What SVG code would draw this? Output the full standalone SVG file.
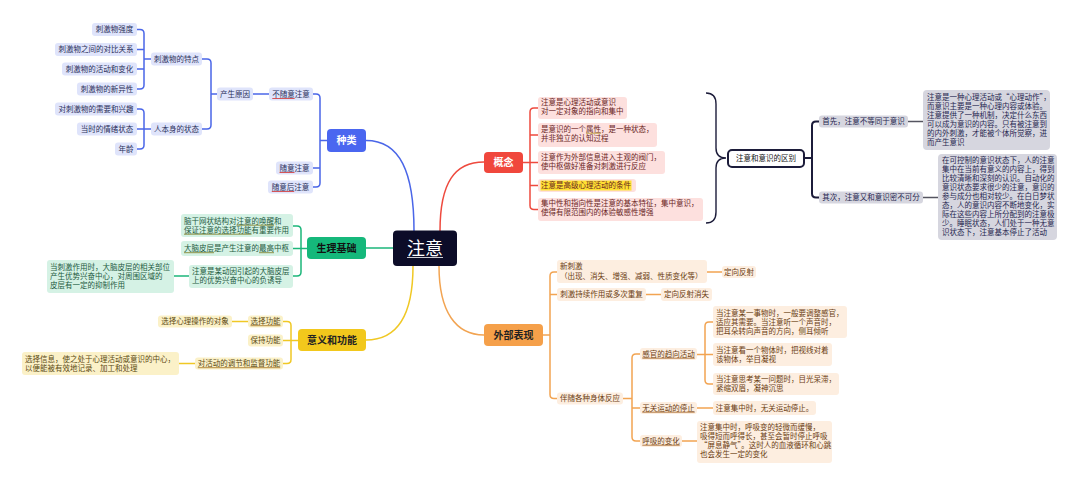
<svg xmlns="http://www.w3.org/2000/svg" width="1080" height="503" viewBox="0 0 1080 503">
<style>
text{font-family:"Noto Sans CJK SC","Noto Sans",sans-serif;font-size:7.5px;}
.c{text-anchor:middle;}
.b rect{fill:#dfe4fb;} .b text{fill:#2a2f5a;}
.g rect{fill:#d5f2e5;} .g text{fill:#1d5a3f;}
.y rect{fill:#fbf1c8;} .y text{fill:#5b4a12;}
.r rect{fill:#fde0de;} .r text{fill:#6a1f1f;}
.o rect{fill:#fdeee0;} .o text{fill:#6b3d12;}
.k rect{fill:#d6d6df;} .k text{fill:#262650;}
.main text{font-size:10px;font-weight:bold;}
.lb{fill:none;stroke:#4a66e8;stroke-width:1.5;}
.lg{fill:none;stroke:#1bb67a;stroke-width:1.5;}
.ly{fill:none;stroke:#f0c824;stroke-width:1.5;}
.lr{fill:none;stroke:#ee4a3e;stroke-width:1.5;}
.lo{fill:none;stroke:#f2a452;stroke-width:1.5;}
.lk{fill:none;stroke:#1c1c3a;stroke-width:2;}
.lk2{fill:none;stroke:#555560;stroke-width:1.5;}
.ul{stroke-width:0.8;}
</style>
<rect width="1080" height="503" fill="#ffffff"/>

<g id="connectors">
  <path class="lb" d="M414,231 C414,172 400,140.5 366,140.5"/>
  <path class="lr" d="M440,231 C440,182 455,162 484,162"/>
  <path class="ly" d="M413,266 C413,318 395,340 366,340"/>
  <path class="lo" d="M439,266 C439,312 456,335 484,335"/>
  <path class="lg" d="M366,248 H393"/>
  <path class="lb" d="M313,94 H316 Q320,94 320,98 V183 Q320,187 316,187 H313 M313,168 H320 M320,140.5 H327"/>
  <path class="lb" d="M253,94 H269"/>
  <path class="lb" d="M202,59 H207 Q211,59 211,63 V125 Q211,129 207,129 H202 M211,94 H217"/>
  <path class="lb" d="M137,29.5 H140 Q144,29.5 144,33.5 V85 Q144,89 140,89 H137 M137,49.5 H144 M137,69 H144"/>
  <path class="lb" d="M144,59 H151"/>
  <path class="lb" d="M137,109 H140 Q144,109 144,113 V145 Q144,149 140,149 H137 M137,129 H151"/>
  <path class="lg" d="M293,226 H297 Q301,226 301,230 V272 Q301,276 297,276 H293 M293,248.5 H307"/>
  <path class="lg" d="M174,276 H189"/>
  <path class="ly" d="M283,321.5 H287 Q291,321.5 291,325.5 V359.5 Q291,363.5 287,363.5 H283 M283,340.5 H298"/>
  <path class="ly" d="M232,321.5 H248 M179,363.5 H195"/>
  <path class="lr" d="M538,108 H534 Q530,108 530,112 V205.5 Q530,209.5 534,209.5 H538 M538,135 H530 M538,162.5 H523 M538,185.5 H530"/>
  <path fill="none" stroke="#1c1c3a" stroke-width="1.4" d="M706,93 Q716,93 716,104 V148 Q716,158 726,158 Q716,158 716,168 V212 Q716,223 706,223"/>
  <path class="lk" d="M804,158 H812 M819,121.5 H816 Q812,121.5 812,125.5 V193.5 Q812,197.5 816,197.5 H819"/>
  <path class="lk2" d="M908,121.5 H923 M923,197.5 H938"/>
  <path class="lo" d="M557,272 H554 Q550,272 550,276 V394.5 Q550,398.5 554,398.5 H557 M557,294.5 H550 M550,335 H543"/>
  <path class="lo" d="M707,272 H722 M646,294.5 H661"/>
  <path class="lo" d="M640,354 H636 Q632,354 632,358 V437 Q632,441 636,441 H640 M640,408 H632 M632,398.5 H623"/>
  <path class="lo" d="M713,322 H709 Q705,322 705,326 V380 Q705,384 709,384 H713 M713,354.5 H697"/>
  <path class="lo" d="M697,408 H713 M682,441 H697"/>
</g>

<g id="n-center">
  <rect x="393" y="230.5" width="64" height="35.5" rx="4" fill="#0c0c28"/>
  <text x="425" y="254.5" class="c" style="font-size:18px;fill:#ffffff">注意</text>
  <line x1="407" y1="257.5" x2="443" y2="257.5" stroke="#ffffff" stroke-width="0.8"/>
</g>

<g id="n-zhonglei" class="main">
  <rect x="327" y="129" width="39" height="23" rx="4" fill="#4a66f0"/>
  <text x="346.5" y="144" class="c" style="fill:#ffffff">种类</text>
</g>
<g id="n-b1" class="b"><rect x="92" y="23" width="45" height="13" rx="3"/><text x="114.5" y="32.2" class="c">刺激物强度</text></g>
<g id="n-b2" class="b"><rect x="55" y="43" width="82" height="13" rx="3"/><text x="96" y="52.2" class="c">刺激物之间的对比关系</text></g>
<g id="n-b3" class="b"><rect x="62" y="62.5" width="75" height="13" rx="3"/><text x="99.5" y="71.7" class="c">刺激物的活动和变化</text></g>
<g id="n-b4" class="b"><rect x="77" y="82.5" width="60" height="13" rx="3"/><text x="107" y="91.7" class="c">刺激物的新异性</text></g>
<g id="n-b5" class="b"><rect x="55" y="102.5" width="82" height="13" rx="3"/><text x="96" y="111.7" class="c">对刺激物的需要和兴趣</text></g>
<g id="n-b6" class="b"><rect x="77" y="122.5" width="60" height="13" rx="3"/><text x="107" y="131.7" class="c">当时的情绪状态</text></g>
<g id="n-b7" class="b"><rect x="115" y="142.5" width="22" height="13" rx="3"/><text x="126" y="151.7" class="c">年龄</text></g>
<g id="n-b8" class="b"><rect x="151" y="52.5" width="51" height="13" rx="3"/><text x="176.5" y="61.7" class="c">刺激物的特点</text></g>
<g id="n-b9" class="b"><rect x="151" y="122.5" width="51" height="13" rx="3"/><text x="176.5" y="131.7" class="c">人本身的状态</text></g>
<g id="n-b10" class="b"><rect x="217" y="87.5" width="36" height="13" rx="3"/><text x="235" y="96.7" class="c">产生原因</text></g>
<g id="n-b11" class="b"><rect x="269" y="87.5" width="44" height="13" rx="3"/><text x="291" y="96.7" class="c">不随意注意</text><line class="ul" x1="272.3" y1="98.5" x2="294.7" y2="98.5" stroke="#d03030"/></g>
<g id="n-b12" class="b"><rect x="276" y="161.5" width="37" height="13" rx="3"/><text x="294.5" y="170.7" class="c">随意注意</text><line class="ul" x1="279.5" y1="172.5" x2="294.5" y2="172.5" stroke="#d03030"/></g>
<g id="n-b13" class="b"><rect x="268" y="180.5" width="45" height="13" rx="3"/><text x="290.5" y="189.7" class="c">随意后注意</text><line class="ul" x1="271.8" y1="191.5" x2="294.2" y2="191.5" stroke="#d03030"/></g>

<g id="n-shengli" class="main">
  <rect x="307" y="237" width="59" height="22" rx="4" fill="#15b87b"/>
  <text x="336.5" y="251.5" class="c" style="fill:#111111">生理基础</text>
</g>
<g id="n-g1" class="g">
  <rect x="181" y="214" width="112" height="23" rx="3"/>
  <text x="184" y="223.7">脑干网状结构对注意的唤醒和</text>
  <text x="184" y="232.7">保证注意的选择功能有重要作用</text>
  <line class="ul" x1="236.5" y1="225.2" x2="274" y2="225.2" stroke="#7a7a20"/>
  <line class="ul" x1="184" y1="234.2" x2="251.5" y2="234.2" stroke="#7a7a20"/>
</g>
<g id="n-g2" class="g">
  <rect x="181" y="241" width="112" height="15" rx="3"/>
  <text x="184" y="251.2">大脑皮层是产生注意的最高中枢</text>
  <line class="ul" x1="184" y1="252.7" x2="214" y2="252.7" stroke="#7a7a20"/>
  <line class="ul" x1="259" y1="252.7" x2="274" y2="252.7" stroke="#7a7a20"/>
</g>
<g id="n-g3" class="g">
  <rect x="189" y="265" width="104" height="23" rx="3"/>
  <text x="192" y="273.7">注意是某动因引起的大脑皮层</text>
  <text x="192" y="282.7">上的优势兴奋中心的负诱导</text>
</g>
<g id="n-g4" class="g">
  <rect x="47" y="260" width="127" height="33" rx="3"/>
  <text x="50" y="269.7">当刺激作用时，大脑皮层的相关部位</text>
  <text x="50" y="278.7">产生优势兴奋中心，对周围区域的</text>
  <text x="50" y="287.7">皮层有一定的抑制作用</text>
</g>

<g id="n-yiyi" class="main">
  <rect x="298" y="329" width="68" height="22" rx="4" fill="#f2c81c"/>
  <text x="332" y="343.5" class="c" style="fill:#222222">意义和功能</text>
</g>
<g id="n-y1" class="y"><rect x="248" y="315.5" width="35" height="12" rx="3"/><text x="265.5" y="324.2" class="c">选择功能</text><line class="ul" x1="250.5" y1="325.7" x2="280.5" y2="325.7" stroke="#a07020"/></g>
<g id="n-y2" class="y"><rect x="248" y="334.5" width="35" height="12" rx="3"/><text x="265.5" y="343.2" class="c">保持功能</text></g>
<g id="n-y3" class="y"><rect x="195" y="357.5" width="88" height="12" rx="3"/><text x="239" y="366.2" class="c">对活动的调节和监督功能</text><line class="ul" x1="197.8" y1="367.7" x2="280.2" y2="367.7" stroke="#a07020"/></g>
<g id="n-y4" class="y"><rect x="158" y="315.5" width="74" height="12" rx="3"/><text x="195" y="324.2" class="c">选择心理操作的对象</text></g>
<g id="n-y5" class="y">
  <rect x="22" y="352" width="157" height="23" rx="3"/>
  <text x="25" y="361.7">选择信息，使之处于心理活动或意识的中心，</text>
  <text x="25" y="370.7">以便能被有效地记录、加工和处理</text>
</g>

<g id="n-gainian" class="main">
  <rect x="484" y="152" width="39" height="21" rx="4" fill="#f0473c"/>
  <text x="503.5" y="166" class="c" style="fill:#ffffff">概念</text>
</g>
<g id="n-r1" class="r">
  <rect x="538" y="97" width="89" height="22" rx="3"/>
  <text x="541" y="105.2">注意是心理活动或意识</text>
  <text x="541" y="114.2">对一定对象的指向和集中</text>
</g>
<g id="n-r2" class="r">
  <rect x="538" y="123" width="119" height="24" rx="3"/>
  <text x="541" y="131.7">是意识的一个属性，是一种状态，</text>
  <text x="541" y="140.7">并非独立的认知过程</text>
  <line class="ul" x1="586" y1="133.2" x2="601" y2="133.2" stroke="#b09020"/>
</g>
<g id="n-r3" class="r">
  <rect x="538" y="151" width="127" height="23" rx="3"/>
  <text x="541" y="159.7">注意作为外部信息进入主观的阀门，</text>
  <text x="541" y="168.7">使中枢做好准备对刺激进行反应</text>
</g>
<g id="n-r4" class="r">
  <rect x="538" y="179" width="98" height="13" rx="3"/>
  <rect x="540.5" y="180.5" width="91" height="10" style="fill:#ffe033"/>
  <text x="541" y="188.2">注意是高级心理活动的条件</text>
</g>
<g id="n-r5" class="r">
  <rect x="538" y="198" width="165" height="23" rx="3"/>
  <text x="541" y="206.2">集中性和指向性是注意的基本特征，集中意识，</text>
  <text x="541" y="215.2">使得有限范围内的体验敏感性增强</text>
</g>

<g id="n-qubie">
  <rect x="728" y="150" width="76" height="17" rx="4" fill="#ffffff" stroke="#1c1c3a" stroke-width="2"/>
  <text x="766" y="161.2" class="c" style="fill:#111111">注意和意识的区别</text>
</g>
<g id="n-k1" class="k"><rect x="819" y="115.5" width="89" height="12" rx="3"/><text x="863.5" y="124.2" class="c">首先，注意不等同于意识</text></g>
<g id="n-k2" class="k"><rect x="819" y="191.5" width="104" height="12" rx="3"/><text x="871" y="200.2" class="c">其次，注意又和意识密不可分</text></g>
<g id="n-k3" class="k">
  <rect x="923" y="90" width="127" height="60" rx="4"/>
  <text x="927" y="99.5">注意是一种心理活动或“心理动作”，</text>
  <text x="927" y="108.5">而意识主要是一种心理内容或体验。</text>
  <text x="927" y="117.5">注意提供了一种机制，决定什么东西</text>
  <text x="927" y="126.5">可以成为意识的内容。只有被注意到</text>
  <text x="927" y="135.5">的内外刺激，才能被个体所觉察，进</text>
  <text x="927" y="144.5">而产生意识</text>
</g>
<g id="n-k4" class="k">
  <rect x="938" y="154" width="119" height="86" rx="4"/>
  <text x="942" y="163.2">在可控制的意识状态下，人的注意</text>
  <text x="942" y="172.2">集中在当前有意义的内容上，得到</text>
  <text x="942" y="181.2">比较清晰和深刻的认识。自动化的</text>
  <text x="942" y="190.2">意识状态要求很少的注意，意识的</text>
  <text x="942" y="199.2">参与成分也相对较少。在白日梦状</text>
  <text x="942" y="208.2">态，人的意识内容不断地变化，实</text>
  <text x="942" y="217.2">际在这些内容上所分配到的注意极</text>
  <text x="942" y="226.2">少。睡眠状态，人们处于一种无意</text>
  <text x="942" y="235.2">识状态下，注意基本停止了活动</text>
</g>

<g id="n-waibu" class="main">
  <rect x="484" y="324" width="59" height="22" rx="4" fill="#f5a04a"/>
  <text x="513.5" y="338.5" class="c" style="fill:#222222">外部表现</text>
</g>
<g id="n-o1" class="o">
  <rect x="557" y="260" width="150" height="23" rx="3"/>
  <text x="560" y="268.7">新刺激</text>
  <text x="560" y="278.7">（出现、消失、增强、减弱、性质变化等）</text>
</g>
<g id="n-o2" class="o"><rect x="722" y="266" width="34" height="12" rx="3"/><text x="739" y="274.7" class="c">定向反射</text></g>
<g id="n-o3" class="o"><rect x="557" y="288" width="89" height="13" rx="3"/><text x="601.5" y="297.2" class="c">刺激持续作用或多次重复</text></g>
<g id="n-o4" class="o"><rect x="661" y="288" width="51" height="13" rx="3"/><text x="686.5" y="297.2" class="c">定向反射消失</text></g>
<g id="n-o5" class="o"><rect x="557" y="392.5" width="66" height="12" rx="3"/><text x="590" y="401.2" class="c">伴随各种身体反应</text></g>
<g id="n-o6" class="o"><rect x="640" y="348" width="57" height="12" rx="3"/><text x="668.5" y="356.7" class="c">感官的趋向活动</text><line class="ul" x1="642.3" y1="358.2" x2="694.7" y2="358.2" stroke="#a06020"/></g>
<g id="n-o7" class="o"><rect x="640" y="402" width="57" height="12" rx="3"/><text x="668.5" y="410.7" class="c">无关运动的停止</text><line class="ul" x1="642.3" y1="412.2" x2="694.7" y2="412.2" stroke="#a06020"/></g>
<g id="n-o8" class="o"><rect x="640" y="435" width="42" height="12" rx="3"/><text x="661" y="443.7" class="c">呼吸的变化</text><line class="ul" x1="642.3" y1="445.2" x2="679.7" y2="445.2" stroke="#a06020"/></g>
<g id="n-o9" class="o">
  <rect x="713" y="306" width="134" height="32" rx="3"/>
  <text x="716" y="315.7">当注意某一事物时，一般要调整感官，</text>
  <text x="716" y="324.7">适应其需要。当注意听一个声音时，</text>
  <text x="716" y="333.7">把耳朵转向声音的方向，侧耳倾听</text>
</g>
<g id="n-o10" class="o">
  <rect x="713" y="343" width="119" height="23" rx="3"/>
  <text x="716" y="352.7">当注意看一个物体时，把视线对着</text>
  <text x="716" y="361.7">该物体，举目凝视</text>
</g>
<g id="n-o11" class="o">
  <rect x="713" y="373" width="126" height="22" rx="3"/>
  <text x="716" y="381.7">当注意思考某一问题时，目光呆滞，</text>
  <text x="716" y="390.7">紧缩双眉，凝神沉思</text>
</g>
<g id="n-o12" class="o"><rect x="713" y="401" width="103" height="14" rx="3"/><text x="764.5" y="410.7" class="c">注意集中时，无关运动停止。</text></g>
<g id="n-o13" class="o">
  <rect x="697" y="421" width="135" height="42" rx="3"/>
  <text x="700" y="429.7">注意集中时，呼吸变的轻微而缓慢，</text>
  <text x="700" y="438.7">吸得短而呼得长，甚至会暂时停止呼吸</text>
  <text x="700" y="447.7">“屏息静气”。这时人的血液循环和心跳</text>
  <text x="700" y="456.7">也会发生一定的变化</text>
</g>
</svg>
